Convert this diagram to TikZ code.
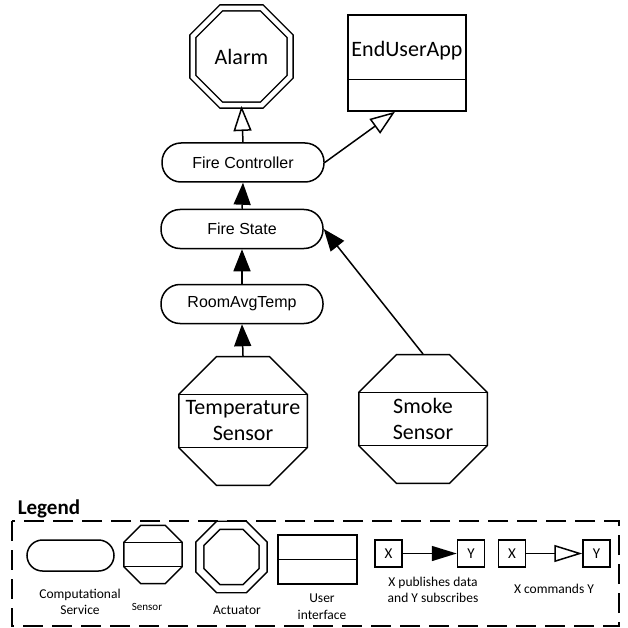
\documentclass[tikz,border=0pt]{standalone}
\usepackage{fontspec}
\newfontfamily\cali{Carlito}
\newfontfamily\arial{Liberation Sans}
\usetikzlibrary{shapes.geometric}
\usetikzlibrary{arrows.meta}

\begin{document}
\begin{tikzpicture}[x=1pt, y=-1pt, line width=1.5pt,
	service/.style={rectangle, draw, rounded corners=19pt, minimum width=162pt, minimum height=39pt, inner sep=0pt, font=\arial\fontsize{16}{19}\selectfont},
	sensor/.style={regular polygon, regular polygon sides=8, draw, inner sep=-20pt, minimum size=139.1pt, align=center, font=\cali\fontsize{22}{26}\selectfont},
	actuator/.style={regular polygon, regular polygon sides=8, draw, double, double distance=4.5pt, inner sep=0pt, minimum size=105.5pt, font=\cali\fontsize{22}{26}\selectfont},
	ui/.style={rectangle, draw, inner sep=0pt, minimum width=118pt, minimum height=96pt, font=\cali\fontsize{22}{26}\selectfont},
	xybox/.style={rectangle, draw, inner sep=0pt, minimum size=27pt, font=\cali\fontsize{15}{18}\selectfont},
	lgd/.style={align=center, inner sep=0pt, font=\cali\fontsize{13.5}{15.5}\selectfont},
	pub/.style={-{Triangle[length=22pt,width=17pt]}},
	cmd/.style={-{Triangle[open,length=25pt,width=18pt]}}]
	\useasboundingbox (0,0) rectangle (628,628);

	% nodes
	\node[actuator] (alarm) at (241.5,56.5) {Alarm};
	\node[ui, text height=16pt, text depth=28pt] (app) at (407,63) {EndUserApp};
	\node[service] (firectl) at (243,162.5) {Fire Controller};
	\node[service] (firestate) at (242,229) {Fire State};
	\node[service] (room) at (242,304) {RoomAvgTemp};
	\node[sensor] (temp) at (243,421) {Temperature\\Sensor};
	\node[sensor] (smoke) at (423,419) {Smoke\\Sensor};

	% dividers
	\draw ([yshift=32pt]app.south west) -- ([yshift=32pt]app.south east);
	\foreach \s in {temp,smoke} {
		\draw ([yshift=26.6pt]\s.west) -- ([yshift=26.6pt]\s.east);
		\draw ([yshift=-26.6pt]\s.west) -- ([yshift=-26.6pt]\s.east);
	}

	% edges
	\draw[pub] (temp.north) -- (room.south);
	\draw[pub] (room.north) -- (firestate.south);
	\draw[pub] (firestate.north) -- (firectl.south);
	\draw[pub] (smoke.north) -- (firestate.east);
	\draw[cmd] (firectl.north) -- (alarm.south);
	\draw[cmd] (firectl.east) -- ([xshift=-12pt]app.south);

	% legend
	\node[anchor=base west, inner sep=0pt, font=\cali\bfseries\fontsize{21}{25}\selectfont] (legend) at (17,514) {Legend};
	\draw[dash pattern=on 20pt off 9pt] (12,521) rectangle (619,626);

	\node[service, minimum width=87pt, minimum height=31pt, rounded corners=15.5pt] (lsvc) at (70.5,555.5) {};
	\node[sensor, inner sep=0pt, minimum size=63.3pt] (lsen) at (153,554.5) {};
	\draw ([yshift=12.1pt]lsen.west) -- ([yshift=12.1pt]lsen.east);
	\draw ([yshift=-12.1pt]lsen.west) -- ([yshift=-12.1pt]lsen.east);
	\node[actuator, double distance=6.5pt, minimum size=68.7pt] (lact) at (231.5,557) {};
	\node[ui, minimum width=79pt, minimum height=49pt] (lui) at (317.5,559.5) {};
	\draw (lui.west) -- (lui.east);
	\node[xybox] (x1) at (388.5,553.5) {X};
	\node[xybox] (y1) at (471,553.5) {Y};
	\node[xybox] (x2) at (512,553.5) {X};
	\node[xybox] (y2) at (596.5,553.5) {Y};
	\draw[pub, -{Triangle[length=25pt,width=15pt]}] (x1) -- (y1);
	\draw[cmd, -{Triangle[open,length=28pt,width=17pt]}] (x2) -- (y2);

	\node[lgd] (lsvctext) at (80,602) {Computational\\Service};
	\node[lgd, font=\cali\fontsize{11}{13}\selectfont] (lsentext) at (147,607) {Sensor};
	\node[lgd] (lacttext) at (237,610) {Actuator};
	\node[lgd, font=\cali\fontsize{13.5}{17}\selectfont] (luitext) at (322,607) {User\\interface};
	\node[lgd, font=\cali\fontsize{13.5}{16}\selectfont] (lpubtext) at (433,590) {X publishes data\\and Y subscribes};
	\node[lgd] (lcmdtext) at (554,589) {X commands Y};
\end{tikzpicture}
\end{document}
